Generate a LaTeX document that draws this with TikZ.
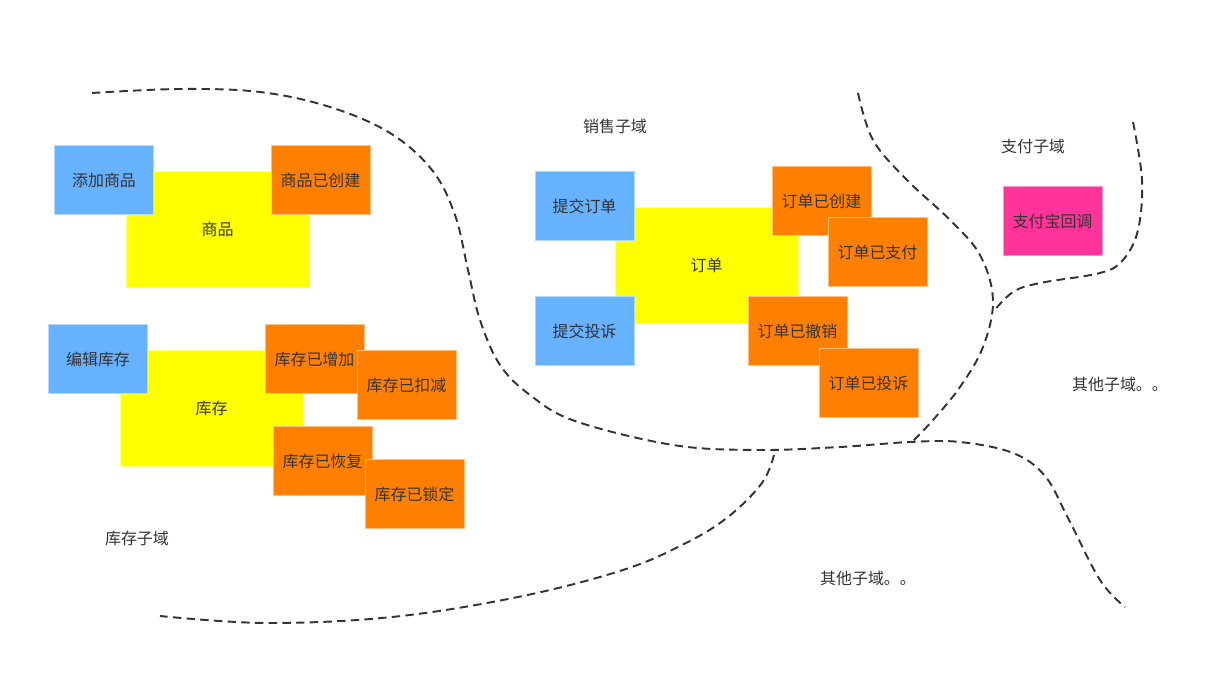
\documentclass[tikz,border=0pt]{standalone}
\usepackage{fontspec}
\setmainfont{Noto Sans CJK SC}
\usepackage{tikz}
\definecolor{cmdblue}{HTML}{66B2FF}
\definecolor{evtorange}{HTML}{FF8000}
\definecolor{aggyellow}{HTML}{FFFF00}
\definecolor{extpink}{HTML}{FF3399}
\definecolor{inkgray}{HTML}{333333}

\begin{document}
\begin{tikzpicture}[
  x=0.02cm, y=-0.02cm,
  txt/.style={text=inkgray, font=\fontsize{9.1pt}{11pt}\selectfont},
  card/.style={txt, minimum width=1.98cm, minimum height=1.38cm,
               inner sep=0pt, line width=0.4pt},
  cmd/.style={card, fill=cmdblue, draw=cmdblue!50!white},
  evt/.style={card, fill=evtorange, draw=evtorange!50!white},
  ext/.style={card, fill=extpink, draw=extpink!50!white},
  agg/.style={txt, fill=aggyellow, draw=aggyellow!50!white, line width=0.4pt,
              minimum width=3.66cm, minimum height=2.32cm, inner sep=0pt},
  border/.style={draw=inkgray, dashed, dash pattern=on 4.8pt off 3pt,
                 line width=1.1pt}
]
  \useasboundingbox (0,0) rectangle (1232,686);

  % inventory side: goods
  \node[agg] (goods)        at (217.5,229.5) {商品};
  \node[cmd] (addGoods)     at (104,180) {添加商品};
  \node[evt] (goodsCreated) at (320.5,180) {商品已创建};

  % inventory side: stock
  \node[agg] (stock)          at (211.5,408.5) {库存};
  \node[cmd] (editStock)      at (98,359) {编辑库存};
  \node[evt] (stockAdded)     at (314.5,359) {库存已增加};
  \node[evt] (stockDeducted)  at (406.5,385) {库存已扣减};
  \node[evt] (stockRestored)  at (322.5,461) {库存已恢复};
  \node[evt] (stockLocked)    at (414.5,494) {库存已锁定};

  % sales
  \node[agg] (order)           at (706.5,265.5) {订单};
  \node[cmd] (submitOrder)     at (584.5,206) {提交订单};
  \node[cmd] (submitComplaint) at (584.5,331) {提交投诉};
  \node[evt] (orderCreated)    at (821.5,201) {订单已创建};
  \node[evt] (orderPaid)       at (877.5,252) {订单已支付};
  \node[evt] (orderCancelled)  at (797.5,331) {订单已撤销};
  \node[evt] (orderComplained) at (868.5,383) {订单已投诉};

  % payment
  \node[ext] (alipayCallback) at (1052.5,221) {支付宝回调};

  % subdomain names
  \node[txt] (salesLabel)   at (615,126)  {销售子域};
  \node[txt] (payLabel)     at (1033,146) {支付子域};
  \node[txt] (stockLabel)   at (137,538)  {库存子域};
  \node[txt] (otherRight)   at (1120,384) {其他子域。。};
  \node[txt] (otherBottom)  at (868,578)  {其他子域。。};

  % boundaries
  \draw[border] plot[smooth, tension=0.6] coordinates {
    (92,93) (180,89) (260,92) (330,107) (390,133) (432,170) (455,215)
    (468,270) (480,320) (500,365) (530,395) (575,421) (673,445) (757,450)
    (840,447) (910,442) (960,442) (1013,453) (1045,476) (1068,518)
    (1100,580) (1125,607)};
  \draw[border] plot[smooth, tension=0.6] coordinates {
    (858,93) (873,140) (907,180) (950,220) (980,255) (993,300) (983,347)
    (960,387) (933,420) (912,442)};
  \draw[border] plot[smooth, tension=0.6] coordinates {
    (1133,122) (1142,180) (1138,230) (1123,260) (1100,273) (1040,283)
    (1013,292) (993,312)};
  \draw[border] plot[smooth, tension=0.6] coordinates {
    (774,455) (762,483) (728,517) (686,543) (623,570) (518,597) (392,617)
    (266,623) (160,616)};
\end{tikzpicture}
\end{document}
